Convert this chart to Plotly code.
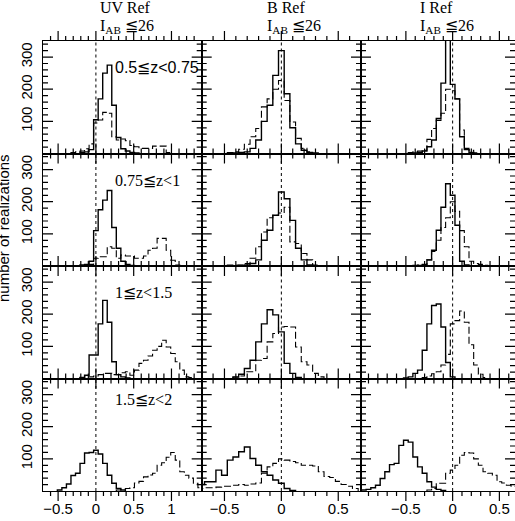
import plotly.graph_objects as go

W, H = 515, 521

# ---------------- data (bin start centre, counts) ----------------
col_titles = ["UV Ref", "B Ref", "I Ref"]
row_labels = ["0.5≦z&lt;0.75", "0.75≦z&lt;1", "1≦z&lt;1.5", "1.5≦z&lt;2"]
bin_width = [0.06, 0.05, 0.05]

# UV reference column
uv_z1_solid_start = -0.18
uv_z1_solid = [3, 5, 12, 105, 170, 250, 275, 150, 50, 15, 8, 3, 2]
uv_z1_dashed_start = -0.30
uv_z1_dashed = [3, 5, 8, 15, 30, 95, 104, 128, 125, 52, 42, 45, 40, 25, 21, 16, 16, 16, 23, 23, 23, 3]
uv_z2_solid_start = -0.18
uv_z2_solid = [3, 5, 15, 110, 175, 205, 235, 120, 55, 15, 5, 2]
uv_z2_dashed_start = -0.06
uv_z2_dashed = [5, 24, 29, 29, 60, 55, 24, 34, 31, 31, 24, 24, 31, 49, 55, 86, 86, 49, 18, 3]
uv_z3_solid_start = -0.18
uv_z3_solid = [3, 10, 73, 73, 170, 243, 175, 52, 12, 5, 2]
uv_z3_dashed_start = -0.18
uv_z3_dashed = [3, 5, 5, 8, 12, 16, 16, 12, 12, 18, 21, 10, 26, 47, 57, 70, 88, 100, 119, 98, 78, 52, 26, 5, 3]
uv_z4_solid_start = -0.48
uv_z4_solid = [3, 10, 22, 48, 55, 86, 118, 120, 127, 115, 86, 49, 24, 8, 3]
uv_z4_dashed_start = 0.30
uv_z4_dashed = [3, 5, 8, 10, 25, 30, 44, 50, 55, 80, 88, 105, 120, 96, 60, 49, 40, 24, 10]

# B reference column
b_z1_solid_start = -0.40
b_z1_solid = [2, 3, 5, 16, 42, 100, 150, 243, 320, 186, 80, 30, 10, 3]
b_z1_dashed_start = -0.45
b_z1_dashed = [3, 5, 13, 29, 52, 78, 145, 170, 200, 227, 165, 98, 47, 16, 5, 2]
b_z2_solid_start = -0.35
b_z2_solid = [2, 3, 8, 19, 80, 111, 158, 230, 209, 142, 55, 19, 3]
b_z2_dashed_start = -0.45
b_z2_dashed = [3, 3, 3, 8, 24, 60, 106, 150, 158, 165, 183, 75, 70, 39, 19, 3]
b_z3_solid_start = -0.40
b_z3_solid = [5, 13, 31, 57, 114, 170, 214, 198, 145, 47, 16, 3]
b_z3_dashed_start = -0.40
b_z3_dashed = [4, 8, 21, 21, 57, 62, 114, 140, 160, 162, 160, 98, 52, 42, 16, 5]
b_z4_solid_start = -0.70
b_z4_solid = [20, 29, 29, 65, 49, 96, 106, 122, 137, 101, 80, 60, 49, 34, 24, 8, 2]
b_z4_dashed_start = -0.70
b_z4_dashed = [8, 10, 10, 12, 15, 15, 18, 20, 18, 22, 25, 55, 75, 86, 100, 96, 92, 88, 80, 80, 78, 60, 45, 42, 30, 20, 15, 8]

# I reference column
i_z1_solid_start = -0.40
i_z1_solid = [2, 4, 8, 21, 42, 109, 219, 420, 215, 170, 52, 12, 3]
i_z1_dashed_start = -0.45
i_z1_dashed = [3, 5, 8, 10, 44, 78, 103, 125, 200, 195, 170, 73, 16, 10, 2]
i_z2_solid_start = -0.35
i_z2_solid = [2, 3, 19, 49, 111, 183, 256, 220, 127, 15, 3]
i_z2_dashed_start = -0.40
i_z2_dashed = [2, 3, 5, 19, 45, 80, 120, 150, 200, 170, 110, 60, 15, 8, 5, 2]
i_z3_solid_start = -0.50
i_z3_solid = [2, 5, 16, 26, 88, 170, 227, 232, 160, 50, 5]
i_z3_dashed_start = -0.30
i_z3_dashed = [3, 8, 15, 21, 42, 75, 170, 180, 210, 175, 105, 42, 13, 3]
i_z4_solid_start = -0.95
i_z4_solid = [3, 5, 10, 18, 39, 60, 82, 86, 142, 158, 152, 106, 75, 55, 29, 12, 5, 2]
i_z4_dashed_start = -0.25
i_z4_dashed = [3, 8, 24, 24, 55, 65, 80, 111, 120, 118, 100, 80, 60, 55, 49, 29, 25, 18, 15]

x_tickvals = [[-0.5, 0, 0.5, 1], [-0.5, 0, 0.5], [-0.5, 0, 0.5]]
y_tickvals = [100, 200, 300]

panels = [
    [(uv_z1_solid_start, uv_z1_solid, uv_z1_dashed_start, uv_z1_dashed),
     (b_z1_solid_start, b_z1_solid, b_z1_dashed_start, b_z1_dashed),
     (i_z1_solid_start, i_z1_solid, i_z1_dashed_start, i_z1_dashed)],
    [(uv_z2_solid_start, uv_z2_solid, uv_z2_dashed_start, uv_z2_dashed),
     (b_z2_solid_start, b_z2_solid, b_z2_dashed_start, b_z2_dashed),
     (i_z2_solid_start, i_z2_solid, i_z2_dashed_start, i_z2_dashed)],
    [(uv_z3_solid_start, uv_z3_solid, uv_z3_dashed_start, uv_z3_dashed),
     (b_z3_solid_start, b_z3_solid, b_z3_dashed_start, b_z3_dashed),
     (i_z3_solid_start, i_z3_solid, i_z3_dashed_start, i_z3_dashed)],
    [(uv_z4_solid_start, uv_z4_solid, uv_z4_dashed_start, uv_z4_dashed),
     (b_z4_solid_start, b_z4_solid, b_z4_dashed_start, b_z4_dashed),
     (i_z4_solid_start, i_z4_solid, i_z4_dashed_start, i_z4_dashed)],
]

# ---------------- layout geometry ----------------
col_px = [(43, 201.7), (201.7, 361), (361, 515)]
row_px = [(41, 153.5), (153.5, 266), (266, 378.5), (378.5, 491)]
x_ranges = [[-0.7, 1.4], [-0.7, 0.7], [-0.98, 0.667]]
y_range = [0, 350]
x_minor_step, x_major_step = 0.1, 0.5
y_minor_step, y_major_step = 20, 100
MAJOR_LEN, MINOR_LEN = 10, 5
label_y_px = [67, 180, 292, 399]

TICKFONT = dict(family="Liberation Sans, Arial, sans-serif", size=15, color="black")
SERIF = "Liberation Serif, Times New Roman, serif"
SANS = "Liberation Sans, Arial, sans-serif"


def step_xy(start, counts, w):
    edges = [start - w / 2 + i * w for i in range(len(counts) + 1)]
    xs = [edges[0]] + edges[:-1] + [edges[-1]]
    ys = [0] + list(counts) + [0]
    return xs, ys


def tick_positions(lo, hi, step):
    k = int(round(lo / step - 0.5)) - 1
    out = []
    while k * step <= hi + 1e-9:
        v = round(k * step, 6)
        if lo + 1e-6 < v < hi - 1e-6:
            out.append(v)
        k += 1
    return out


def is_major(v, step):
    return abs(v / step - round(v / step)) < 1e-6


fig = go.Figure()
layout = dict(width=W, height=H, margin=dict(l=0, r=0, t=0, b=0),
              paper_bgcolor="white", plot_bgcolor="white", showlegend=False)
shapes, annotations = [], []
TICKLINE = dict(color="black", width=1.2)

for r in range(4):
    for c in range(3):
        p = r * 3 + c + 1
        sfx = "" if p == 1 else str(p)
        s0, sv, d0, dv = panels[r][c]
        w = bin_width[c]
        xs, ys = step_xy(d0, dv, w)
        fig.add_trace(go.Scatter(x=xs, y=ys, mode="lines", line_shape="hv",
                                 line=dict(color="black", width=1.1, dash="7px,3px"),
                                 xaxis="x" + sfx, yaxis="y" + sfx, hoverinfo="skip"))
        xs, ys = step_xy(s0, sv, w)
        fig.add_trace(go.Scatter(x=xs, y=ys, mode="lines", line_shape="hv",
                                 line=dict(color="black", width=1.4),
                                 xaxis="x" + sfx, yaxis="y" + sfx, hoverinfo="skip"))
        x0p, x1p = col_px[c]
        y0p, y1p = row_px[r]
        layout["xaxis" + sfx] = dict(
            domain=[x0p / W, x1p / W], range=x_ranges[c], anchor="y" + sfx,
            showline=True, linecolor="black", linewidth=1.4, mirror=True,
            ticks="", tickmode="array", tickvals=x_tickvals[c],
            showticklabels=(r == 3), tickfont=TICKFONT, ticklabelstandoff=4,
            showgrid=False, zeroline=False, fixedrange=True)
        layout["yaxis" + sfx] = dict(
            domain=[1 - y1p / H, 1 - y0p / H], range=y_range, anchor="x" + sfx,
            showline=True, linecolor="black", linewidth=1.4, mirror=True,
            ticks="", tickmode="array", tickvals=y_tickvals,
            showticklabels=(c == 0), tickfont=TICKFONT, tickangle=-90, ticklabelstandoff=4,
            showgrid=False, zeroline=False, fixedrange=True)

        # tick marks on all four sides, pointing into the frame
        for v in tick_positions(x_ranges[c][0], x_ranges[c][1], x_minor_step):
            L = MAJOR_LEN if is_major(v, x_major_step) else MINOR_LEN
            for anc, sign in ((0, -1), (1, 1)):
                shapes.append(dict(type="line", xref="x" + sfx, yref="y" + sfx + " domain",
                                   x0=v, x1=v, ysizemode="pixel", yanchor=anc,
                                   y0=0, y1=sign * L, line=TICKLINE, layer="above"))
        for v in tick_positions(y_range[0], y_range[1], y_minor_step):
            L = MAJOR_LEN if is_major(v, y_major_step) else MINOR_LEN
            for anc, sign in ((0, 1), (1, -1)):
                shapes.append(dict(type="line", xref="x" + sfx + " domain", yref="y" + sfx,
                                   y0=v, y1=v, xsizemode="pixel", xanchor=anc,
                                   x0=0, x1=sign * L, line=TICKLINE, layer="above"))
        # dotted reference line at zero offset
        shapes.append(dict(type="line", xref="x" + sfx, yref="y" + sfx + " domain",
                           x0=0, x1=0, y0=0, y1=1,
                           line=dict(color="black", width=1, dash="dot")))

# column titles
title_x_px = [98, 265, 418]
for c in range(3):
    annotations.append(dict(text=col_titles[c], x=title_x_px[c] / W, y=1 - 8 / H,
                            xref="paper", yref="paper", xanchor="left", yanchor="middle",
                            showarrow=False, font=dict(family=SERIF, size=16, color="black")))
    annotations.append(dict(text="I<sub>AB</sub> ≦26", x=title_x_px[c] / W, y=1 - 27 / H,
                            xref="paper", yref="paper", xanchor="left", yanchor="middle",
                            showarrow=False, font=dict(family=SERIF, size=16, color="black")))

# redshift labels
label_fonts = [SANS, SERIF, SERIF, SERIF]
for r in range(4):
    annotations.append(dict(text=row_labels[r], x=113 / W, y=1 - label_y_px[r] / H,
                            xref="paper", yref="paper", xanchor="left", yanchor="middle",
                            showarrow=False, font=dict(family=label_fonts[r], size=16, color="black")))

# y-axis title
annotations.append(dict(text="number of realizations", x=4 / W, y=1 - 228 / H,
                        xref="paper", yref="paper", xanchor="center", yanchor="middle",
                        textangle=-90, showarrow=False,
                        font=dict(family=SANS, size=15, color="black")))

layout["shapes"] = shapes
layout["annotations"] = annotations
fig.update_layout(**layout)
fig.write_html("out.html")
